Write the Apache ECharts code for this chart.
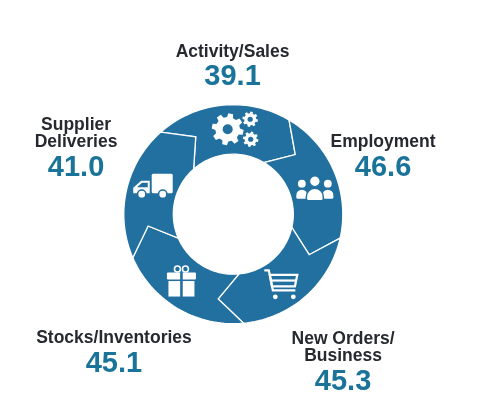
<!DOCTYPE html>
<html>
<head>
<meta charset="utf-8">
<script src="https://cdn.jsdelivr.net/npm/echarts@6/dist/echarts.min.js"></script>
<style>
  html, body { margin: 0; padding: 0; background: #fff; }
  #main { width: 478px; height: 417px; }
</style>
</head>
<body>
<div id="main"></div>
<script>
var categories = ['Activity/Sales', 'Employment', 'New Orders/\nBusiness', 'Stocks/Inventories', 'Supplier\nDeliveries'];
var indexValues = [39.1, 46.6, 45.3, 45.1, 41.0];
var segmentShares = [1, 1, 1, 1, 1];
var iconNames = ['gears', 'people', 'cart', 'gift', 'truck'];

// layout (polar units = px, angles ccw from 3 o'clock)
var ringStart = 131.4;
var rInner = 60, rOuter = 109.5, rBend = 86, bendShift = 15.5;
var iconRadius = 85, iconShift = 7;
var labelSpots = [[145.5, 90.3], [159.6, 20.2], [186.3, -53.9], [184.5, -130.3], [169.6, 158]];

var ringColor = '#2270a0';
var valueColor = '#1a7399';
var nameColor = '#262a30';
var fontFamily = '"Liberation Sans", Arial, sans-serif';

var total = 0;
segmentShares.forEach(function (s) { total += s; });
var edges = [ringStart];
segmentShares.forEach(function (s) {
	edges.push(edges[edges.length - 1] - 360 * s / total);
});

function gearPoints(cx, cy, R, r, n) {
	var pts = [], step = Math.PI * 2 / n;
	for (var k = 0; k < n; k++) {
		var th = k * step + step / 4;
		[[r, -0.32], [R, -0.19], [R, 0.19], [r, 0.32]].forEach(function (p) {
			pts.push([cx + p[0] * Math.cos(th + p[1] * step), cy + p[0] * Math.sin(th + p[1] * step)]);
		});
	}
	return pts;
}

function drawIcon(name) {
	var w = { fill: '#fff' };
	var b = { fill: ringColor };
	if (name == 'gears') {
		return [
			{ type: 'polygon', shape: { points: gearPoints(-8, 0, 16, 12.3, 8) }, style: w },
			{ type: 'circle', shape: { cx: -8, cy: 0, r: 5 }, style: b },
			{ type: 'polygon', shape: { points: gearPoints(14.5, -10, 7.8, 6, 8) }, style: w },
			{ type: 'circle', shape: { cx: 14.5, cy: -10, r: 2.6 }, style: b },
			{ type: 'polygon', shape: { points: gearPoints(15, 10, 7.8, 6, 8) }, style: w },
			{ type: 'circle', shape: { cx: 15, cy: 10, r: 2.6 }, style: b }
		];
	}
	if (name == 'people') {
		return [
			{ type: 'rect', shape: { x: -18.5, y: -0.5, width: 11, height: 9, r: [5.5, 5.5, 1.5, 1.5] }, style: w },
			{ type: 'rect', shape: { x: 7.5, y: -0.5, width: 11, height: 9, r: [5.5, 5.5, 1.5, 1.5] }, style: w },
			{ type: 'circle', shape: { cx: -13, cy: -6.5, r: 3.9 }, style: w },
			{ type: 'circle', shape: { cx: 13, cy: -6.5, r: 3.9 }, style: w },
			{ type: 'rect', shape: { x: -8.5, y: -2, width: 17, height: 12.5, r: [8.5, 8.5, 2, 2] },
				style: { fill: '#fff', stroke: ringColor, lineWidth: 1.5 } },
			{ type: 'circle', shape: { cx: 0, cy: -9, r: 5.3 }, style: { fill: '#fff', stroke: ringColor, lineWidth: 1.2 } }
		];
	}
	if (name == 'cart') {
		var line = { stroke: '#fff', lineWidth: 2.2, fill: null };
		return [
			{ type: 'polyline', shape: { points: [[-17, -14], [-12.5, -14], [-8.5, 6], [14, 6]] }, style: line },
			{ type: 'polygon', shape: { points: [[-11.5, -9.5], [16, -9.5], [13.6, 2], [-9.3, 2]] }, style: line },
			{ type: 'line', shape: { x1: -10.4, y1: -3.8, x2: 14.8, y2: -3.8 }, style: line },
			{ type: 'circle', shape: { cx: -6, cy: 12.5, r: 2.4 }, style: w },
			{ type: 'circle', shape: { cx: 12, cy: 12.5, r: 2.4 }, style: w }
		];
	}
	if (name == 'gift') {
		var bow = { stroke: '#fff', lineWidth: 1.6, fill: null };
		return [
			{ type: 'circle', shape: { cx: -4, cy: -12.5, r: 3 }, style: bow },
			{ type: 'circle', shape: { cx: 4, cy: -12.5, r: 3 }, style: bow },
			{ type: 'rect', shape: { x: -14.5, y: -9, width: 29, height: 7, r: 1 }, style: w },
			{ type: 'rect', shape: { x: -13, y: -0.5, width: 26, height: 15.5 }, style: w },
			{ type: 'rect', shape: { x: -1.3, y: -9.5, width: 2.6, height: 25 }, style: b }
		];
	}
	// truck
	return [
		{ type: 'rect', shape: { x: -1.5, y: -12, width: 21, height: 19.5, r: 1.5 }, style: w },
		{ type: 'polygon', shape: { points: [[-3.5, -5], [-12, -5], [-20, 2], [-20, 7.5], [-3.5, 7.5]] }, style: w },
		{ type: 'polygon', shape: { points: [[-5.5, -3], [-11.2, -3], [-16.3, 1.5], [-5.5, 1.5]] }, style: b },
		{ type: 'circle', shape: { cx: -11.5, cy: 8.5, r: 4.2 }, style: { fill: '#fff', stroke: ringColor, lineWidth: 1.6 } },
		{ type: 'circle', shape: { cx: 9.5, cy: 8.5, r: 4.2 }, style: { fill: '#fff', stroke: ringColor, lineWidth: 1.6 } }
	];
}

function renderSegment(params, api) {
	var i = params.dataIndex;
	var a = edges[i], e = edges[i + 1];
	var pt = function (r, ang) {
		var c = api.coord([r, ang]);
		return [c[0], c[1]];
	};
	var pts = [], t;
	for (t = a; t > e; t -= 2) pts.push(pt(rOuter, t));
	pts.push(pt(rOuter, e));
	pts.push(pt(rBend, e - bendShift));
	for (t = e; t < a; t += 2) pts.push(pt(rInner, t));
	pts.push(pt(rInner, a));
	pts.push(pt(rBend, a - bendShift));

	var ic = pt(iconRadius, (a + e) / 2 - iconShift);
	var spot = labelSpots[i];
	var lp = pt(spot[0], spot[1]);
	var lines = categories[i].split('\n').map(function (s) { return '{n|' + s + '}'; });
	lines.push('{v|' + api.value(0).toFixed(1) + '}');

	return {
		type: 'group',
		children: [
			{ type: 'polygon', shape: { points: pts }, style: { fill: ringColor, stroke: '#fff', lineWidth: 1.3 } },
			{ type: 'group', x: ic[0], y: ic[1], children: drawIcon(iconNames[i]) },
			{
				type: 'text', x: lp[0], y: lp[1],
				style: {
					text: lines.join('\n'),
					align: 'center',
					verticalAlign: 'middle',
					rich: {
						n: { fontSize: 17.5, fontWeight: 'bold', fontFamily: fontFamily, fill: nameColor, lineHeight: 17.5, align: 'center' },
						v: { fontSize: 29, fontWeight: 'bold', fontFamily: fontFamily, fill: valueColor, lineHeight: 34, align: 'center' }
					}
				}
			}
		]
	};
}

var chart = echarts.init(document.getElementById('main'));
chart.setOption({
	animation: false,
	backgroundColor: '#fff',
	polar: { center: [233.3, 214.2], radius: rOuter },
	angleAxis: { type: 'value', min: 0, max: 360, startAngle: 0, clockwise: false, show: false },
	radiusAxis: { type: 'value', min: 0, max: rOuter, show: false },
	series: [{
		type: 'custom',
		coordinateSystem: 'polar',
		renderItem: renderSegment,
		data: indexValues.map(function (v, i) { return { name: categories[i], value: [v, i] }; })
	}]
});
</script>
</body>
</html>
